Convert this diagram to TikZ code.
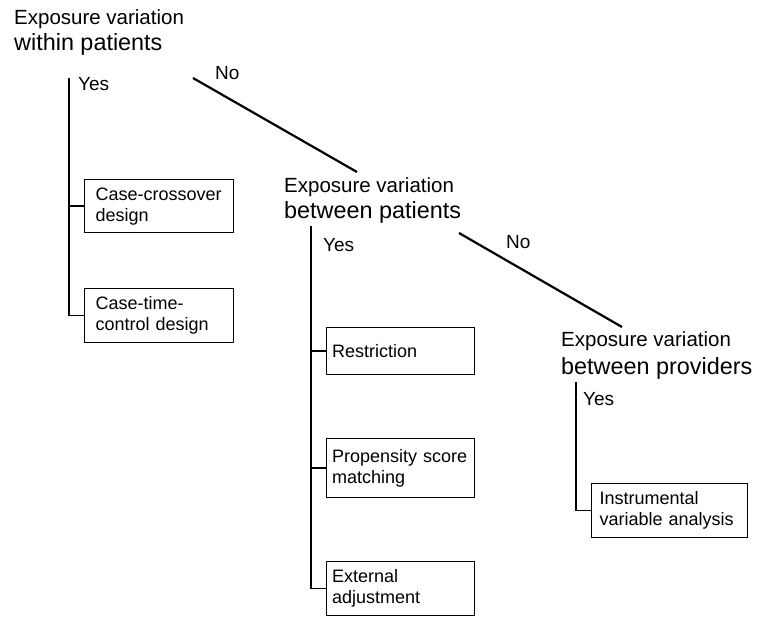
\documentclass[tikz,border=0pt]{standalone}
\usepackage{fontspec}
\setmainfont{Liberation Sans}
\begin{document}
\begin{tikzpicture}[x=1pt,y=-1pt,
  tline/.style={line width=1.6pt},
  dline/.style={line width=2.2pt},
  tleA/.style={anchor=base west, inner sep=0pt, font=\fontsize{20.5}{24}\selectfont},
  tleB/.style={anchor=base west, inner sep=0pt, font=\fontsize{23.4}{27}\selectfont},
  lab/.style={anchor=base west, inner sep=0pt, font=\fontsize{19}{22}\selectfont},
  box/.style={draw, line width=1.3pt, rectangle, anchor=north west, align=left,
    inner ysep=0pt, font=\fontsize{18}{21}\selectfont},
]
\useasboundingbox (0,0) rectangle (759,622);

% titles
\node[tleA] (t1a) at (14,24) {Exposure variation};
\node[tleB] (t1b) at (14,50) {within patients};
\node[tleA] (t2a) at (284,192) {Exposure variation};
\node[tleB] (t2b) at (284,218) {between patients};
\node[tleA] (t3a) at (561,346) {Exposure variation};
\node[tleB] (t3b) at (561,374) {between providers};

% labels
\node[lab] (y1) at (78,90) {Yes};
\node[lab] (n1) at (215,79) {No};
\node[lab] (y2) at (323,251) {Yes};
\node[lab] (n2) at (506,248) {No};
\node[lab] (y3) at (583,405) {Yes};

% boxes
\node[box, minimum width=149pt, minimum height=53pt, text width=127pt, inner xsep=11pt] (b1) at (84,179) {Case-crossover\\design};
\node[box, minimum width=149pt, minimum height=54pt, text width=127pt, inner xsep=11pt] (b2) at (84,288) {Case-time-\\control design};
\node[box, minimum width=148pt, minimum height=47pt, text width=137pt, inner xsep=5.5pt] (b3) at (326,327) {Restriction};
\node[box, minimum width=148pt, minimum height=59pt, text width=137pt, inner xsep=5.5pt] (b4) at (326,438) {Propensity score\\matching};
\node[box, minimum width=148pt, minimum height=54pt, text width=137pt, inner xsep=5.5pt] (b5) at (326,561) {External\\adjustment};
\node[box, minimum width=156pt, minimum height=54pt, text width=140pt, inner xsep=8pt] (b6) at (591,483) {Instrumental\\variable analysis};

% tree connectors
\coordinate (v1) at (69,78);
\draw[tline] (v1) |- (b2.west);
\draw[tline] (v1 |- b1.west) -- (b1.west);

\coordinate (v2) at (311,226);
\draw[tline] (v2) |- (b5.west);
\draw[tline] (v2 |- b3.west) -- (b3.west);
\draw[tline] (v2 |- b4.west) -- (b4.west);

\coordinate (v3) at (576,382);
\draw[tline] (v3) |- (b6.west);

% "No" diagonals
\coordinate (d1s) at (193,78);
\coordinate (d1e) at (357,172);
\draw[dline] (d1s) -- (d1e);
\coordinate (d2s) at (459,233);
\coordinate (d2e) at (622,327);
\draw[dline] (d2s) -- (d2e);
\end{tikzpicture}
\end{document}
